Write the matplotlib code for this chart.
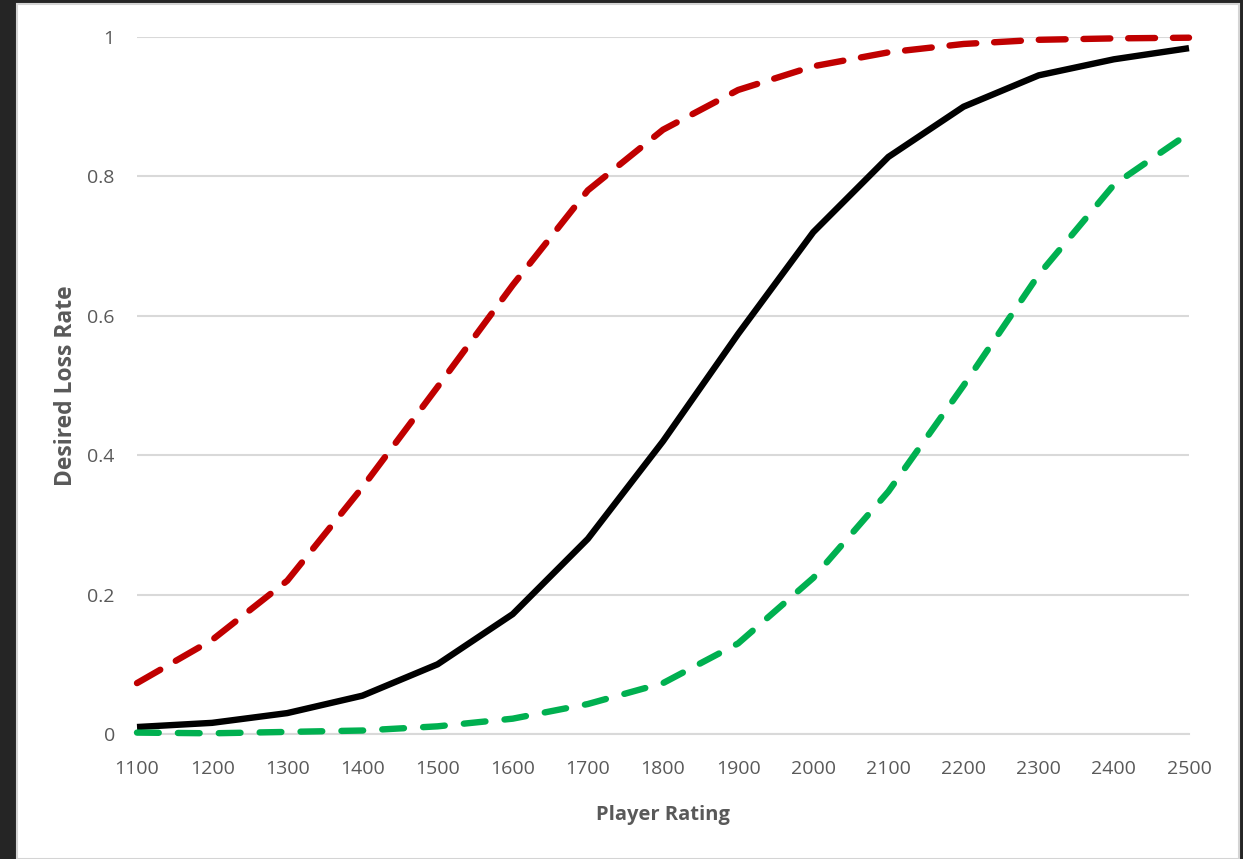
import matplotlib
matplotlib.use("Agg")
import matplotlib.pyplot as plt
from matplotlib.patches import Rectangle

ratings = [1100, 1200, 1300, 1400, 1500, 1600, 1700, 1800, 1900, 2000, 2100, 2200, 2300, 2400, 2500]
mid_rate = [0.010, 0.016, 0.030, 0.055, 0.100, 0.172, 0.280, 0.420, 0.574, 0.720, 0.828, 0.900, 0.945, 0.968, 0.984]
high_rate = [0.073, 0.135, 0.220, 0.354, 0.498, 0.644, 0.780, 0.867, 0.924, 0.958, 0.978, 0.990, 0.996, 0.998, 0.999]
low_rate = [0.002, 0.001, 0.003, 0.005, 0.011, 0.022, 0.043, 0.073, 0.130, 0.224, 0.348, 0.500, 0.659, 0.788, 0.862]

x_ticks = list(range(1100, 2501, 100))
y_ticks = [0, 0.2, 0.4, 0.6, 0.8, 1]
y_labels = ["0", "0.2", "0.4", "0.6", "0.8", "1"]

W, H = 1243, 859
fig = plt.figure(figsize=(W / 100, H / 100), dpi=100)
fig.patch.set_facecolor("#252525")
panel = Rectangle((17 / W, 0), (1239 - 17) / W, (H - 4) / H,
                  transform=fig.transFigure, facecolor="white",
                  edgecolor="#d4d4d4", linewidth=1.5, zorder=-10)
fig.add_artist(panel)

ax = fig.add_axes([137 / W, 1 - 734 / H, (1189 - 137) / W, (734 - 37) / H])
ax.set_zorder(5)
ax.set_facecolor("none")
ax.patch.set_alpha(0)
ax.set_xlim(1100, 2500)
ax.set_ylim(0, 1)

font = "Open Sans"
ax.plot(ratings, high_rate, color="#c00000", lw=4.6, ls=(0, (4.2, 2.8)),
        dash_capstyle="round", clip_on=False, zorder=3)
ax.plot(ratings, mid_rate, color="black", lw=4.6, solid_capstyle="butt",
        clip_on=False, zorder=3)
ax.plot(ratings, low_rate, color="#00b050", lw=4.6, ls=(0, (3.4, 3.0)),
        dash_capstyle="round", clip_on=False, zorder=3)

ax.set_yticks(y_ticks)
ax.set_yticklabels(y_labels)
ax.set_xticks(x_ticks)
ax.set_xticklabels([str(t) for t in x_ticks])
ax.grid(axis="y", color="#d9d9d9", lw=1.5, zorder=1)
ax.grid(axis="x", visible=False)
for s in ["top", "right", "left"]:
    ax.spines[s].set_visible(False)
ax.spines["bottom"].set_color("#d9d9d9")
ax.spines["bottom"].set_linewidth(1.5)
ax.tick_params(axis="both", length=0, labelcolor="#595959", labelsize=14)
ax.tick_params(axis="y", pad=16)
ax.tick_params(axis="x", pad=19)
for lab in ax.get_xticklabels() + ax.get_yticklabels():
    lab.set_fontfamily(font)

ax.set_xlabel("Player Rating", fontsize=14.5, fontweight="bold", color="#595959",
              fontfamily=font, labelpad=19)
ax.set_ylabel("Desired Loss Rate", fontsize=16.5, fontweight="bold", color="#595959",
              fontfamily=font, labelpad=7)

fig.savefig("out.png", dpi=100, facecolor=fig.get_facecolor())
